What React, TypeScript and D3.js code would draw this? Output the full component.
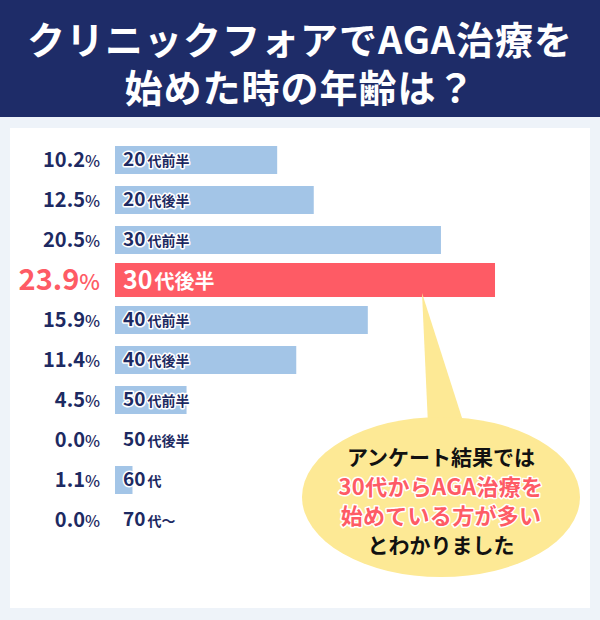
import React from "react";
import * as d3 from "d3";

const titleLines = ["クリニックフォアでAGA治療を", "始めた時の年齢は？"];
const ageGroups = ["20代前半", "20代後半", "30代前半", "30代後半", "40代前半", "40代後半", "50代前半", "50代後半", "60代", "70代〜"];
const shares = [10.2, 12.5, 20.5, 23.9, 15.9, 11.4, 4.5, 0.0, 1.1, 0.0];
const highlightGroup = "30代後半";
const calloutLines = [
  { text: "アンケート結果では", accent: false },
  { text: "30代からAGA治療を", accent: true },
  { text: "始めている方が多い", accent: true },
  { text: "とわかりました", accent: false },
];

const NAVY = "#1e2c68";
const TEXT_NAVY = "#1d2a62";
const BLUE = "#a3c5e7";
const RED = "#fe5b65";
const YELLOW = "#fde995";
const PAGE = "#eef3f9";
const FONT = "'Noto Sans CJK JP', 'Noto Sans', sans-serif";

export default function App() {
  const width = 600;
  const height = 620;

  const x = d3.scaleLinear().domain([0, 25]).range([115, 115 + 25 * 15.9]);
  const y = d3
    .scaleBand<string>()
    .domain(ageGroups)
    .range([140, 540])
    .paddingInner(0.3)
    .paddingOuter(0.15);

  const rows = ageGroups.map((g, i) => {
    const m = g.match(/^(\d+)(.*)$/);
    return { group: g, value: shares[i], num: m ? m[1] : g, rest: m ? m[2] : "" };
  });

  const hiY = (y(highlightGroup) ?? 0) + y.bandwidth() / 2;
  const hiBottom = hiY + 17;

  // callout bubble
  const cx = 441;
  const cy = 497;
  const tail = [
    [422, hiBottom - 4],
    [428, cy - 72],
    [463, cy - 76],
  ];
  const calloutBase = [465, 495, 524, 553];

  return (
    <svg
      width={width}
      height={height}
      style={{ position: "absolute", left: 0, top: 0, display: "block" }}
      fontFamily={FONT}
    >
      <rect x={0} y={0} width={width} height={height} fill={PAGE} />
      <rect x={0} y={0} width={width} height={117} fill={NAVY} />
      {titleLines.map((t, i) => (
        <text
          key={t}
          x={width / 2}
          y={54 + i * 48}
          textAnchor="middle"
          fill="#fff"
          fontSize={38}
          fontWeight={700}
          letterSpacing={1}
        >
          {t}
        </text>
      ))}

      <rect x={10} y={128} width={580} height={480} fill="#fff" />

      {rows.map((r) => {
        const hi = r.group === highlightGroup;
        const yc = (y(r.group) ?? 0) + y.bandwidth() / 2;
        const h = hi ? 34 : y.bandwidth();
        return (
          <g key={r.group}>
            {r.value > 0 && (
              <rect
                x={x(0)}
                y={yc - h / 2}
                width={x(r.value) - x(0)}
                height={h}
                fill={hi ? RED : BLUE}
              />
            )}
            <text
              x={100}
              y={yc + (hi ? 10 : 7)}
              textAnchor="end"
              fill={hi ? RED : TEXT_NAVY}
              fontWeight={700}
            >
              <tspan fontSize={hi ? 29 : 20}>{r.value.toFixed(1)}</tspan>
              <tspan fontSize={hi ? 22 : 16} fontWeight={500}>%</tspan>
            </text>
            <text
              x={123}
              y={yc + (hi ? 9 : 6)}
              fill={hi ? "#fff" : TEXT_NAVY}
              stroke={hi ? "none" : "#fff"}
              strokeWidth={3}
              strokeLinejoin="round"
              paintOrder="stroke"
              fontWeight={700}
            >
              <tspan fontSize={hi ? 25 : 19}>{r.num}</tspan>
              <tspan fontSize={hi ? 20 : 14} dx={2}>{r.rest}</tspan>
            </text>
          </g>
        );
      })}

      <path d={d3.line()(tail as [number, number][]) + "Z"} fill={YELLOW} />
      <ellipse cx={cx} cy={cy} rx={139} ry={80} fill={YELLOW} />
      {calloutLines.map((l, i) => (
        <text
          key={l.text}
          x={cx}
          y={calloutBase[i]}
          textAnchor="middle"
          fontSize={l.accent ? 22 : 21}
          fontWeight={700}
          fill={l.accent ? RED : "#111"}
          stroke={l.accent ? "#fff" : "none"}
          strokeWidth={3}
          strokeLinejoin="round"
          paintOrder="stroke"
          letterSpacing={l.accent ? 0.3 : 0}
        >
          {l.text}
        </text>
      ))}
    </svg>
  );
}
